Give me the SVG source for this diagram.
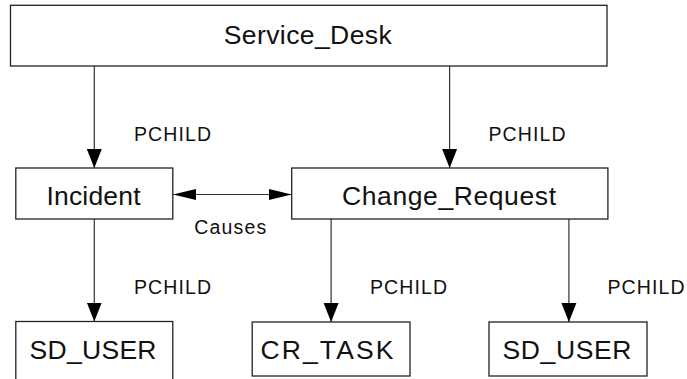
<svg xmlns="http://www.w3.org/2000/svg" width="687" height="379" viewBox="0 0 687 379">
<style>
.box{fill:#fff;stroke:#222;stroke-width:1.3}
.node{font-family:"Liberation Sans",Arial,sans-serif;font-size:26.5px;fill:#111;text-anchor:middle}
.lbl{font-family:"Liberation Sans",Arial,sans-serif;font-size:19.5px;fill:#111}
.conn{stroke:#333;stroke-width:1.2;fill:none}
</style>
<defs>
<marker id="arrV" markerUnits="userSpaceOnUse" viewBox="0 -8 19 16" refX="19" refY="0" markerWidth="19" markerHeight="16" orient="auto-start-reverse">
<path d="M0,-7.5 L19,0 L0,7.5 z" fill="#000"/>
</marker>
<marker id="arrH" markerUnits="userSpaceOnUse" viewBox="0 -6 23 12" refX="23" refY="0" markerWidth="23" markerHeight="12" orient="auto-start-reverse">
<path d="M0,-5.5 L23,0 L0,5.5 z" fill="#000"/>
</marker>
</defs>
<rect width="687" height="379" fill="#fff"/>
<g id="connectors">
<line class="conn" x1="94.3" y1="66" x2="94.3" y2="168" marker-end="url(#arrV)"/>
<line class="conn" x1="449.6" y1="66" x2="449.6" y2="168" marker-end="url(#arrV)"/>
<line class="conn" x1="173" y1="194.5" x2="291.7" y2="194.5" marker-start="url(#arrH)" marker-end="url(#arrH)"/>
<line class="conn" x1="94.3" y1="219" x2="94.3" y2="321.5" marker-end="url(#arrV)"/>
<line class="conn" x1="331.1" y1="219" x2="331.1" y2="322" marker-end="url(#arrV)"/>
<line class="conn" x1="568.9" y1="219" x2="568.9" y2="322" marker-end="url(#arrV)"/>
<text class="lbl" x="134" y="140.5" textLength="77" lengthAdjust="spacing">PCHILD</text>
<text class="lbl" x="488.5" y="140.5" textLength="77" lengthAdjust="spacing">PCHILD</text>
<text class="lbl" x="194.3" y="233.5" textLength="72" lengthAdjust="spacing">Causes</text>
<text class="lbl" x="134" y="293.5" textLength="77" lengthAdjust="spacing">PCHILD</text>
<text class="lbl" x="370" y="293.5" textLength="77" lengthAdjust="spacing">PCHILD</text>
<text class="lbl" x="607.5" y="293.5" textLength="77" lengthAdjust="spacing">PCHILD</text>
</g>
<g id="service_desk">
<rect class="box" x="10.5" y="5.3" width="596.5" height="60.7"/>
<text class="node" x="307.7" y="44" textLength="168" lengthAdjust="spacing">Service_Desk</text>
</g>
<g id="incident">
<rect class="box" x="15.8" y="168" width="157" height="51"/>
<text class="node" x="93.5" y="204.5" textLength="94" lengthAdjust="spacing">Incident</text>
</g>
<g id="change_request">
<rect class="box" x="291.7" y="168" width="316.2" height="51"/>
<text class="node" x="449" y="204.5" textLength="214" lengthAdjust="spacing">Change_Request</text>
</g>
<g id="sd_user_1">
<rect class="box" x="15.8" y="321.5" width="157" height="70"/>
<text class="node" x="93" y="358.5" textLength="127" lengthAdjust="spacing">SD_USER</text>
</g>
<g id="cr_task">
<rect class="box" x="252.2" y="322" width="157.8" height="54"/>
<text class="node" x="327" y="358.5" textLength="133" lengthAdjust="spacing">CR_TASK</text>
</g>
<g id="sd_user_2">
<rect class="box" x="489" y="322" width="158" height="54"/>
<text class="node" x="567" y="358.5" textLength="129" lengthAdjust="spacing">SD_USER</text>
</g>
</svg>
